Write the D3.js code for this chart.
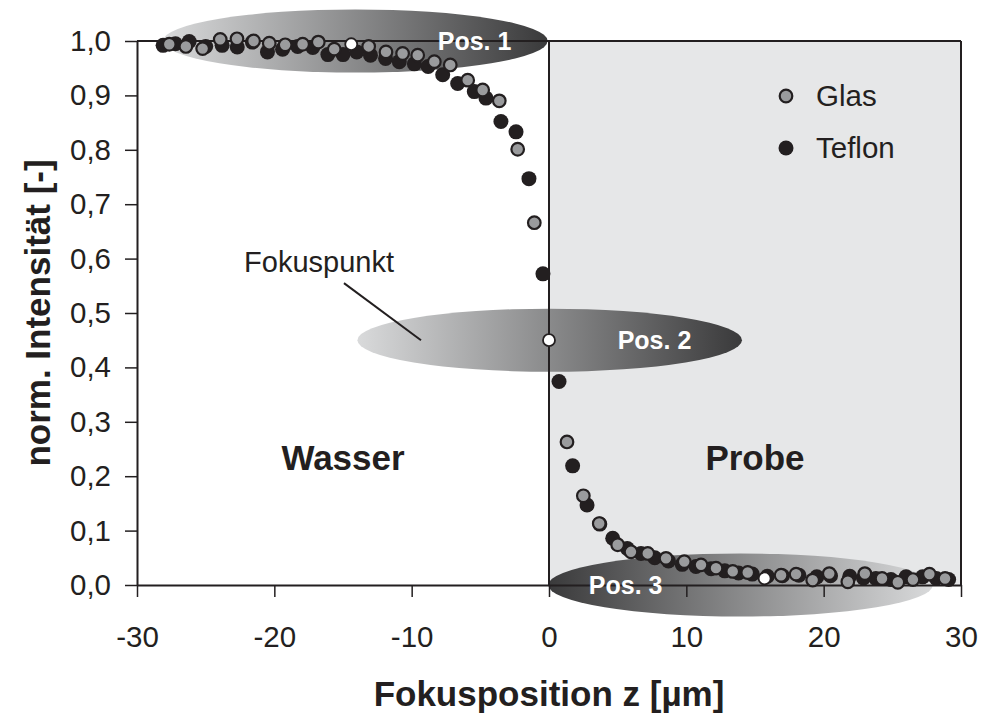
<!DOCTYPE html>
<html>
<head>
<meta charset="utf-8">
<script src="https://cdn.jsdelivr.net/npm/d3@7"></script>
<style>
  html, body { margin: 0; padding: 0; background: #ffffff; }
  svg { display: block; font-family: "Liberation Sans", Arial, Helvetica, sans-serif; }
</style>
</head>
<body>
<svg id="chart" width="981" height="717"></svg>
<script>
// Normalised intensity vs. focus position (µm), measured on glass and Teflon samples
const glasZ = [-27.65, -26.44, -25.22, -23.94, -22.72, -21.51, -20.37, -19.21, -17.94, -16.8, -15.64,
  -13.13, -11.87, -10.66, -9.56, -8.35, -7.19, -5.92, -4.83, -3.62, -2.28, -1.07,
  1.31, 2.5, 3.66, 5.0, 5.97, 7.19, 8.52, 9.85, 11.07, 12.16, 13.38, 14.47,
  16.9, 17.99, 19.2, 20.41, 21.76, 23.0, 24.25, 25.4, 26.5, 27.7, 28.84];
const glasI = [0.994, 0.99, 0.986, 1.003, 1.004, 1.0, 0.996, 0.993, 0.994, 0.998, 0.985,
  0.99, 0.98, 0.977, 0.974, 0.962, 0.956, 0.928, 0.91, 0.89, 0.801, 0.666,
  0.263, 0.164, 0.113, 0.074, 0.061, 0.058, 0.049, 0.043, 0.037, 0.031, 0.025, 0.023,
  0.018, 0.02, 0.009, 0.021, 0.006, 0.021, 0.012, 0.005, 0.01, 0.02, 0.012];

const teflonZ = [-28.1, -27.2, -26.2, -25.0, -23.8, -22.7, -21.6, -20.5, -19.4, -18.3, -17.2, -16.1,
  -15.0, -14.0, -13.0, -11.9, -10.9, -9.8, -8.8, -7.74, -6.65, -5.44, -4.59, -3.5, -2.4, -1.46,
  -0.44, 0.73, 1.72, 2.77, 3.7, 4.64, 5.7, 6.7, 7.7, 8.7, 9.7, 10.7, 11.8, 12.8, 13.8, 14.8,
  15.9, 17.0, 18.2, 19.5, 20.5, 21.9, 22.9, 23.8, 24.9, 26.0, 27.2, 28.2, 29.1];
const teflonI = [0.992, 0.995, 0.999, 0.99, 0.992, 0.989, 0.998, 0.98, 0.985, 0.99, 0.988, 0.975,
  0.975, 0.98, 0.974, 0.968, 0.962, 0.958, 0.953, 0.938, 0.922, 0.907, 0.895, 0.852, 0.833, 0.747,
  0.572, 0.374, 0.219, 0.147, 0.112, 0.086, 0.067, 0.058, 0.05, 0.044, 0.038, 0.034, 0.03, 0.026, 0.022, 0.02,
  0.016, 0.017, 0.018, 0.015, 0.017, 0.016, 0.013, 0.012, 0.01, 0.015, 0.015, 0.012, 0.01];

// Marked focus positions
const posLabels = ["Pos. 1", "Pos. 2", "Pos. 3"];
const posZ = [-14.4, 0.0, 15.7];
const posI = [0.994, 0.45, 0.012];

const xTicks = [-30, -20, -10, 0, 10, 20, 30];
const yTicks = [0, 0.1, 0.2, 0.3, 0.4, 0.5, 0.6, 0.7, 0.8, 0.9, 1.0];
const seriesNames = ["Glas", "Teflon"];
const regionNames = ["Wasser", "Probe"];

const svg = d3.select("#chart");
const margin = { top: 41, right: 20, bottom: 132, left: 137 };
const W = 981, H = 717;
const x = d3.scaleLinear().domain([-30, 30]).range([margin.left, W - margin.right]);
const y = d3.scaleLinear().domain([0, 1]).range([H - margin.bottom, margin.top]);
const deFmt = d3.formatLocale({ decimal: ",", thousands: ".", grouping: [3], currency: ["", " €"], minus: "-" });
const fmt1 = deFmt.format(".1f");
const fmtInt = deFmt.format("d");

const defs = svg.append("defs");
function grad(id, from, to) {
  const g = defs.append("linearGradient").attr("id", id)
    .attr("x1", "0%").attr("x2", "100%").attr("y1", "0%").attr("y2", "0%");
  g.append("stop").attr("offset", "0%").attr("stop-color", from);
  g.append("stop").attr("offset", "100%").attr("stop-color", to);
}
grad("gLight2Dark", "#d9dadb", "#3a3a3b");
grad("gDark2Light", "#3a3a3b", "#d9dadb");

// Sample side (z > 0) shaded
svg.append("rect")
  .attr("x", x(0)).attr("y", y(1))
  .attr("width", x(30) - x(0)).attr("height", y(0) - y(1))
  .attr("fill", "#e6e7e8");

// Focus-volume ellipses
const ellipses = [
  { cz: -14.1, ci: 1.0, fill: "url(#gLight2Dark)" },
  { cz: 0.05, ci: 0.45, fill: "url(#gLight2Dark)" },
  { cz: 13.95, ci: 0.0, fill: "url(#gDark2Light)" }
];
const rxU = 14.0, ryU = 0.058;
svg.append("g").selectAll("ellipse").data(ellipses).join("ellipse")
  .attr("cx", d => x(d.cz)).attr("cy", d => y(d.ci))
  .attr("rx", x(rxU) - x(0)).attr("ry", y(0) - y(ryU))
  .attr("fill", d => d.fill);

// Frame
const frame = svg.append("g").attr("stroke", "#231f20").attr("stroke-width", 2).attr("fill", "none");
frame.append("line").attr("x1", x(-30)).attr("x2", x(30)).attr("y1", y(1)).attr("y2", y(1));
frame.append("line").attr("x1", x(30)).attr("x2", x(30)).attr("y1", y(1)).attr("y2", y(0));
frame.append("line").attr("x1", x(0)).attr("x2", x(0)).attr("y1", y(1)).attr("y2", y(0));

// Axes
const xAxis = d3.axisBottom(x).tickValues(xTicks).tickSize(12).tickSizeOuter(0).tickPadding(29)
  .tickFormat(fmtInt);
const yAxis = d3.axisLeft(y).tickValues(yTicks).tickSize(12).tickSizeOuter(0).tickPadding(14)
  .tickFormat(fmt1);

const gx = svg.append("g").attr("transform", `translate(0,${y(0)})`).call(xAxis);
const gy = svg.append("g").attr("transform", `translate(${x(-30)},0)`).call(yAxis);
[gx, gy].forEach(g => {
  g.select(".domain").attr("stroke", "#231f20").attr("stroke-width", 2);
  g.selectAll(".tick line").attr("stroke", "#231f20").attr("stroke-width", 1.5);
  g.selectAll(".tick text").attr("fill", "#231f20").attr("font-size", 29.5)
    .attr("font-family", "'Liberation Sans', Arial, sans-serif");
});

// Data points
const tef = teflonZ.map((z, i) => ({ z, v: teflonI[i] }));
const gla = glasZ.map((z, i) => ({ z, v: glasI[i] }));
svg.append("g").selectAll("circle").data(tef).join("circle")
  .attr("cx", d => x(d.z)).attr("cy", d => y(d.v)).attr("r", 7.5)
  .attr("fill", "#231f20");
svg.append("g").selectAll("circle").data(gla).join("circle")
  .attr("cx", d => x(d.z)).attr("cy", d => y(d.v)).attr("r", 6.3)
  .attr("fill", "#9a9b9d").attr("stroke", "#231f20").attr("stroke-width", 2.2);

// Focus positions
const pos = posZ.map((z, i) => ({ z, v: posI[i], label: posLabels[i] }));
svg.append("g").selectAll("circle").data(pos).join("circle")
  .attr("cx", d => x(d.z)).attr("cy", d => y(d.v)).attr("r", 6)
  .attr("fill", "#ffffff").attr("stroke", "#231f20").attr("stroke-width", 1.8);

// Position labels, placed on their ellipses
const posLabelZ = [-8.1, 5.0, 2.9];
const posLabelI = [1.0, 0.45, 0.0];
svg.append("g").selectAll("text").data(pos).join("text")
  .attr("x", (d, i) => x(posLabelZ[i])).attr("y", (d, i) => y(posLabelI[i]) + 9)
  .attr("fill", "#ffffff").attr("font-weight", "bold").attr("font-size", 25)
  .text(d => d.label);

// Focus point annotation
svg.append("line")
  .attr("x1", x(-14.93)).attr("y1", y(0.555)).attr("x2", x(-9.32)).attr("y2", y(0.45))
  .attr("stroke", "#231f20").attr("stroke-width", 2);
svg.append("text").attr("x", x(-22.2)).attr("y", y(0.575)).attr("fill", "#231f20")
  .attr("font-size", 29).text("Fokuspunkt");

// Region labels
svg.append("text").attr("x", x(-15)).attr("y", y(0.211)).attr("text-anchor", "middle")
  .attr("font-weight", "bold").attr("font-size", 35).attr("fill", "#231f20").text(regionNames[0]);
svg.append("text").attr("x", x(15)).attr("y", y(0.211)).attr("text-anchor", "middle")
  .attr("font-weight", "bold").attr("font-size", 35).attr("fill", "#231f20").text(regionNames[1]);

// Legend
const legend = svg.append("g").attr("transform", "translate(786,96)");
legend.append("circle").attr("cx", 0).attr("cy", 0).attr("r", 6.3)
  .attr("fill", "#9a9b9d").attr("stroke", "#231f20").attr("stroke-width", 2.2);
legend.append("circle").attr("cx", 0).attr("cy", 52).attr("r", 7.5).attr("fill", "#231f20");
legend.selectAll("text").data(seriesNames).join("text")
  .attr("x", 30).attr("y", (d, i) => i * 52 + 10)
  .attr("font-size", 29.5).attr("fill", "#231f20").text(d => d);

// Axis titles
svg.append("text").attr("x", x(0)).attr("y", 706).attr("text-anchor", "middle")
  .attr("font-weight", "bold").attr("font-size", 35).attr("fill", "#231f20")
  .text("Fokusposition z [µm]");
svg.append("text")
  .attr("transform", `translate(50,${(y(0) + y(1)) / 2}) rotate(-90)`)
  .attr("text-anchor", "middle")
  .attr("font-weight", "bold").attr("font-size", 35).attr("fill", "#231f20")
  .text("norm. Intensität [-]");
</script>
</body>
</html>
